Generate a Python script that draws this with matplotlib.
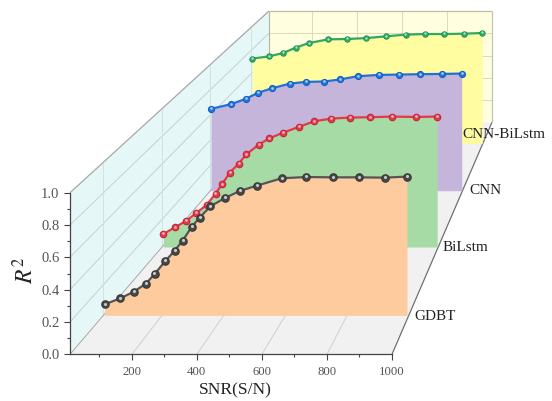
import matplotlib
matplotlib.use("Agg")
import matplotlib.pyplot as plt
from matplotlib.ticker import MultipleLocator, FixedLocator
from matplotlib.transforms import Affine2D, ScaledTranslation

plt.rcParams['font.family'] = ['Liberation Serif', 'DejaVu Serif']
plt.rcParams['mathtext.fontset'] = 'stix'

# Data
gdbt_x = [14, 65, 109, 148, 176, 211, 241, 267, 296, 322, 357, 404, 452, 508, 588, 668, 754, 838, 923, 994]
gdbt_y = [.072, .111, .155, .207, .270, .355, .422, .488, .577, .638, .712, .766, .812, .847, .895, .903, .901, .901, .899, .906]
bilstm_x = [15, 56, 96, 133, 170, 202, 225, 253, 285, 312, 357, 395, 445, 500, 556, 617, 683, 757, 835, 920, 996]
bilstm_y = [.094, .142, .188, .246, .304, .386, .453, .538, .603, .670, .740, .786, .827, .868, .909, .928, .936, .938, .943, .940, .943]
cnn_x = [13, 90, 149, 197, 253, 324, 386, 458, 518, 589, 671, 751, 834, 919, 997]
cnn_y = [.649, .686, .728, .776, .813, .850, .863, .866, .882, .908, .918, .921, .924, .926, .929]
cnnbi_x = [16, 87, 147, 202, 257, 340, 419, 502, 586, 670, 754, 834, 920, 997]
cnnbi_y = [.732, .751, .780, .827, .866, .898, .901, .909, .924, .939, .944, .944, .947, .953]

X_MIN, X_MAX = 10, 1000
x_major = [200, 400, 600, 800, 1000]
x_minor = [100, 300, 500, 700, 900]
y_major = [0.0, 0.2, 0.4, 0.6, 0.8, 1.0]
y_labels = ['0.0', '0.2', '0.4', '0.6', '0.8', '1.0']

# name, depth, values, fill, line, marker rim, marker body, highlight, marker px, label offset px
series = [
    ('CNN-BiLstm', .909, cnnbi_x, cnnbi_y, '#FFFD9F', '#2FA866', '#1F8A50', '#2FA866', '#A8E8C4', 6.4, (-21, 9)),
    ('CNN', .705, cnn_x, cnn_y, '#C5B5DA', '#2070D8', '#1558B8', '#1F74DC', '#A8CCF4', 7.2, (6.5, 0.5)),
    ('BiLstm', .4625, bilstm_x, bilstm_y, '#A6DBA6', '#E23A48', '#C02236', '#DE3A4C', '#F4B4BC', 7.6, (4, 0)),
    ('GDBT', .168, gdbt_x, gdbt_y, '#FDCB9E', '#555555', '#333333', '#484848', '#C8C8C8', 8.6, (6, -1)),
]

W, H = 552, 401
fig = plt.figure(figsize=(W / 100, H / 100), dpi=100, facecolor='white')
ax = fig.add_axes([70 / W, (H - 354.3) / H, 322 / W, 161.6 / H])
ax.patch.set_visible(False)
ax.set_xlim(X_MIN, X_MAX)
ax.set_ylim(0, 1)
ax.set_autoscale_on(False)

# Oblique perspective: depth t in [0, 1] from the front plane to the back wall
SX, DX, SY, DY = .3075, 611.8, .3113, 1.4356


def project(x, y, t):
    return (X_MIN + DX * t + (x - X_MIN) * (1 - SX * t), DY * t + y * (1 - SY * t))


def plane(t):
    return (Affine2D().translate(-X_MIN, 0).scale(1 - SX * t, 1 - SY * t)
            .translate(X_MIN + DX * t, DY * t) + ax.transData)


def quad(p, color, z):
    xs, ys = zip(*[project(*q) for q in p])
    ax.fill(xs, ys, color=color, lw=0, clip_on=False, zorder=z)


def seg(a, b, color, lw=.7, z=1.2):
    (x0, y0), (x1, y1) = project(*a), project(*b)
    ax.plot([x0, x1], [y0, y1], color=color, lw=lw, clip_on=False, zorder=z, solid_capstyle='butt')


quad([(X_MIN, 0, 0), (X_MIN, 1, 0), (X_MIN, 1, 1), (X_MIN, 0, 1)], '#E6F7F7', 1)
quad([(X_MIN, 0, 1), (X_MIN, 1, 1), (X_MAX, 1, 1), (X_MAX, 0, 1)], '#FFFFDF', 1)
quad([(X_MIN, 0, 0), (X_MAX, 0, 0), (X_MAX, 0, 1), (X_MIN, 0, 1)], '#F1F1F1', 1)

for v in y_major[1:-1]:
    seg((X_MIN, v, 0), (X_MIN, v, 1), '#C4D2D2')
    seg((X_MIN, v, 1), (X_MAX, v, 1), '#DDDAB4')
for v in x_major[:-1]:
    seg((v, 0, 0), (v, 0, 1), '#CFCFCF')
    seg((v, 0, 1), (v, 1, 1), '#DDDAB4')
for s in series:
    seg((X_MIN, 0, s[1]), (X_MIN, 1, s[1]), '#D2E2E2')
seg((X_MIN, 0, 1), (X_MIN, 1, 1), '#B5B5A5', .8)
seg((X_MIN, 1, 0), (X_MIN, 1, 1), '#A8A8A8', .9, 1.3)
seg((X_MIN, 1, 1), (X_MAX, 1, 1), '#BDBDAE', .9, 1.3)
seg((X_MAX, 1, 1), (X_MAX, 0, 1), '#C4C4B0', .9, 1.3)
seg((X_MIN, 0, 0), (X_MIN, 0, 1), '#A8A8A8', .7, 1.3)
seg((X_MAX, 0, 0), (X_MAX, 0, 1), '#707070', .9, 1.3)

for i, (name, t, xs, ys, fill, line, rim, body, shine, px, off) in enumerate(series):
    z = 2 + i
    tr = plane(t)
    ax.fill_between(xs, 0, ys, transform=tr, color=fill, lw=0, clip_on=False, zorder=z)
    ax.plot(xs, ys, transform=tr, color=line, lw=1.6, clip_on=False, zorder=z + .1)
    ms = px * .72
    ax.plot(xs, ys, 'o', transform=tr, ms=ms, mfc=rim, mec='none', clip_on=False, zorder=z + .2)
    ax.plot(xs, ys, 'o', transform=tr, ms=ms * .78, mfc=body, mec='none', clip_on=False, zorder=z + .3)
    hi = tr + ScaledTranslation(-.1 / 72, .4 / 72, fig.dpi_scale_trans)
    ax.plot(xs, ys, 'o', transform=hi, ms=ms * .36, mfc=shine, mec='none', clip_on=False, zorder=z + .4)
    ax.annotate(name, xy=(X_MAX, 0), xycoords=tr, xytext=(off[0] * .72, off[1] * .72),
                textcoords='offset points', ha='left', va='center', fontsize=11,
                color='#222222', zorder=10, annotation_clip=False)

for side in ('top', 'right'):
    ax.spines[side].set_visible(False)
for side in ('left', 'bottom'):
    ax.spines[side].set_color('#444444')
    ax.spines[side].set_linewidth(.9)
    ax.spines[side].set_zorder(8)

ax.xaxis.set_major_locator(FixedLocator(x_major))
ax.xaxis.set_minor_locator(FixedLocator(x_minor))
ax.yaxis.set_major_locator(FixedLocator(y_major))
ax.yaxis.set_minor_locator(MultipleLocator(.1))
ax.set_yticklabels(y_labels)
ax.tick_params(which='major', direction='out', length=4, width=.8, color='#444444',
               labelcolor='#555555', pad=3)
ax.tick_params(axis='y', which='major', labelsize=10.5, pad=3.5)
ax.tick_params(axis='x', which='major', labelsize=9.2, pad=4.5)
ax.tick_params(which='minor', direction='out', length=2.2, width=.8, color='#444444')

fig.text(235 / W, 1 - 390 / H, 'SNR(S/N)', ha='center', va='center', fontsize=12.6, color='#222222')
fig.text(25 / W, 1 - 270 / H, '$R^2$', rotation=90, ha='center', va='center', fontsize=17, color='#222222')

fig.savefig('out.png', dpi=100)
